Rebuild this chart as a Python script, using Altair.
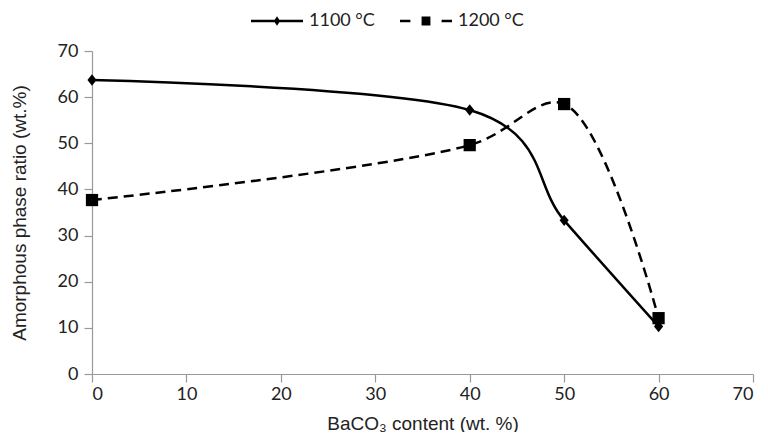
import altair as alt
import pandas as pd

# data
x_vals = [0, 40, 50, 60]
s1100 = [63.7, 57.2, 33.3, 10.3]
s1200 = [37.7, 49.6, 58.5, 12.1]
series_names = ["1100 °C", "1200 °C"]
x_ticks = [0, 10, 20, 30, 40, 50, 60, 70]
y_ticks = [0, 10, 20, 30, 40, 50, 60, 70]

rows = []
for name, vals in zip(series_names, [s1100, s1200]):
    for xv, yv in zip(x_vals, vals):
        rows.append({"x": xv, "y": yv, "series": name})
df = pd.DataFrame(rows)
leg_df = pd.DataFrame({"leg": series_names})

DIAMOND = "M0,-1L0.8,0L0,1L-0.8,0Z"
# legend glyphs drawn as filled shapes (line segments as thin bars)
LEG1100 = ("M-1,-0.045L1,-0.045L1,0.045L-1,0.045Z"
           "M0,-0.18L0.12,0L0,0.18L-0.12,0Z")
LEG1200 = ("M-1,-0.045L-0.6,-0.045L-0.6,0.045L-1,0.045Z"
           "M0.6,-0.045L1,-0.045L1,0.045L0.6,0.045Z"
           "M-0.17,-0.17L0.17,-0.17L0.17,0.17L-0.17,0.17Z")

xenc = alt.X("x:Q", scale=alt.Scale(domain=[0, 70], nice=False),
             axis=alt.Axis(values=x_ticks, title="BaCO₃ content (wt. %)"))
yenc = alt.Y("y:Q", scale=alt.Scale(domain=[0, 70], nice=False),
             axis=alt.Axis(values=y_ticks, title="Amorphous phase ratio (wt.%)"))

line1100 = alt.Chart(df).transform_filter(alt.datum.series == series_names[0]).mark_line(
    interpolate="cardinal", tension=0, color="black", strokeWidth=2.5
).encode(x=xenc, y=yenc)

line1200 = alt.Chart(df).transform_filter(alt.datum.series == series_names[1]).mark_line(
    interpolate="catmull-rom", color="black", strokeWidth=2.5, strokeDash=[10, 6]
).encode(x=xenc, y=yenc)

points = alt.Chart(df).mark_point(filled=True, color="black", opacity=1).encode(
    x=xenc, y=yenc,
    shape=alt.Shape("series:N", scale=alt.Scale(domain=series_names, range=[DIAMOND, "square"]), legend=None),
    size=alt.Size("series:N", scale=alt.Scale(domain=series_names, range=[130, 150]), legend=None),
)

legend_layer = alt.Chart(leg_df).mark_point(filled=True, color="black", opacity=0).encode(
    shape=alt.Shape("leg:N", scale=alt.Scale(domain=series_names, range=[LEG1100, LEG1200]),
                    legend=alt.Legend(title=None, orient="none", direction="horizontal",
                                      legendX=158, legendY=-57,
                                      symbolSize=2704, labelFont="Lato", labelFontSize=18,
                                      labelColor="#222", labelOffset=5, columnPadding=22,
                                      symbolFillColor="black", symbolOpacity=1)),
)

chart = alt.layer(line1100, line1200, points, legend_layer).resolve_scale(
    shape="independent", size="independent"
).properties(
    width=661, height=323,
    autosize=alt.AutoSizeParams(type="none"),
    padding={"left": 84, "top": 43, "right": 7, "bottom": 58},
).configure_view(stroke=None).configure_axis(
    grid=False, domainColor="#999", tickColor="#999", tickSize=8, domainWidth=1.2, tickWidth=1.2,
    labelFont="Lato", labelFontSize=18, labelColor="#222",
    titleFont="Liberation Sans", titleFontSize=19, titleFontWeight="normal", titleColor="#222",
).configure_axisX(labelPadding=3, titlePadding=11).configure_axisY(labelPadding=6, titlePadding=28)

chart.save("out.html", embed_options={"renderer": "svg", "actions": False})
